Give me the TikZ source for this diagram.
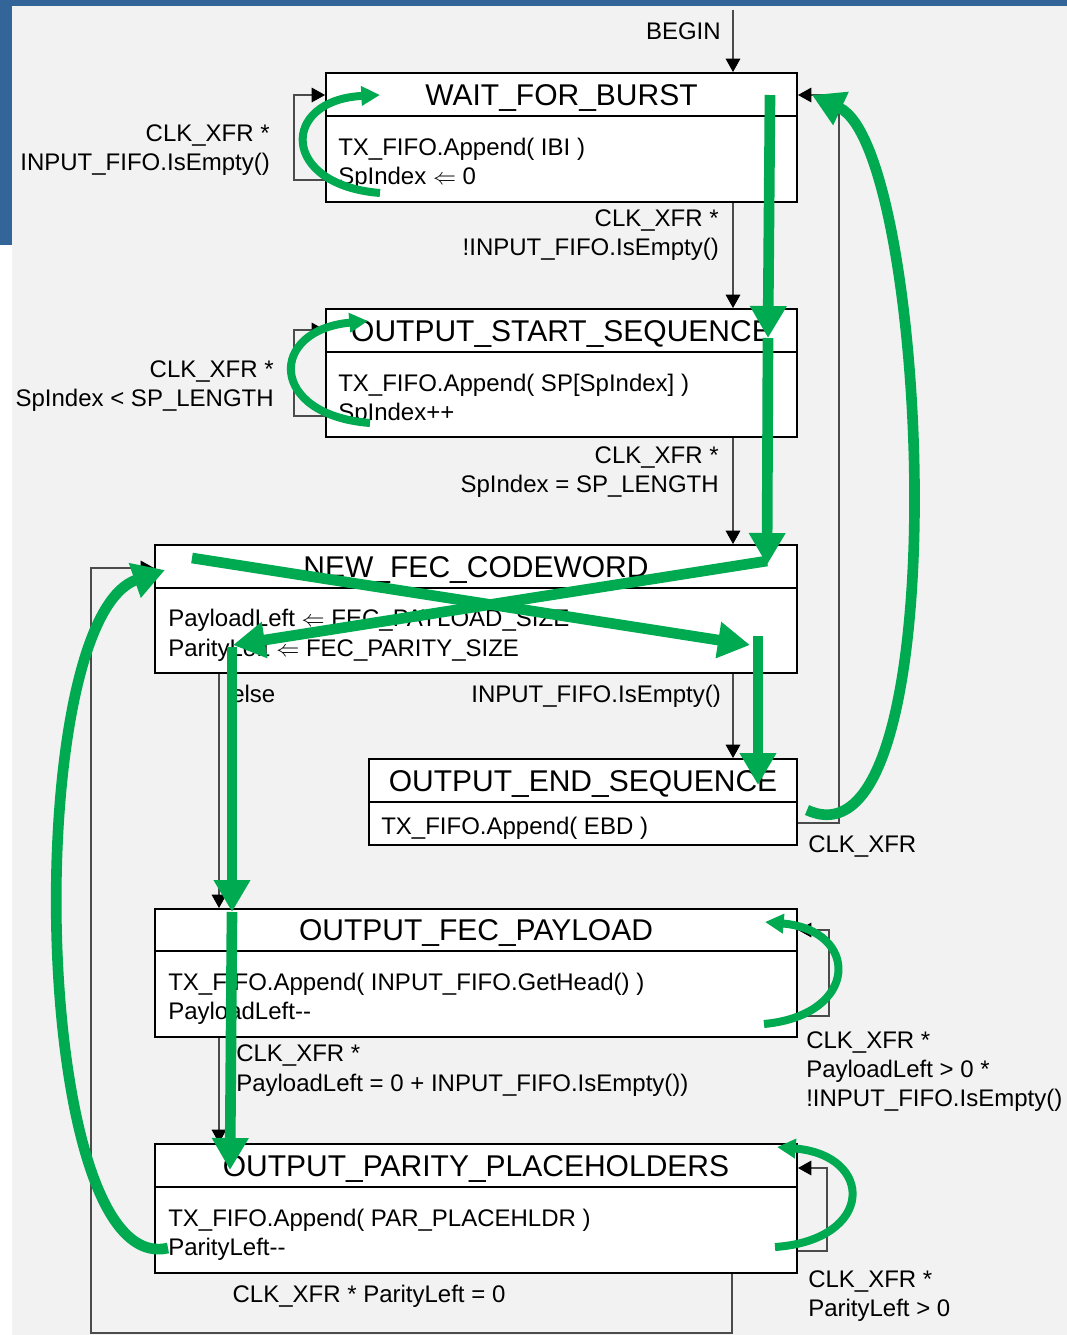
\documentclass[tikz,border=0pt]{standalone}
\usepackage{fontspec}
\setmainfont{Liberation Sans}
\usetikzlibrary{arrows.meta,fit}
\definecolor{bandblue}{RGB}{52,101,153}
\definecolor{bggray}{RGB}{242,242,242}
\definecolor{hl}{RGB}{0,170,80}
\definecolor{connc}{RGB}{75,75,75}
\tikzset{
  statebox/.style={draw=black, line width=1.5pt, fill=white, inner sep=0pt},
  divline/.style={draw=black, line width=1.5pt},
  conn/.style={draw=connc, line width=0.8pt, -{Triangle[length=10pt,width=11pt,color=black]}},
  ttl/.style={font=\fontsize{22.5}{27}\selectfont, inner sep=0pt, text height=16.1pt, text depth=0pt, anchor=center},
  bdy/.style={font=\fontsize{18}{22}\selectfont, inner sep=0pt, text height=12.9pt, text depth=0pt, anchor=west},
  lblr/.style={bdy, anchor=east},
  hlbig/.style={draw=hl, line width=8pt, -{Triangle[length=24pt,width=26pt]}},
  hlsmall/.style={draw=hl, line width=6pt, -{Triangle[length=14pt,width=14pt]}}
}
\begin{document}
\begin{tikzpicture}[x=0.75pt,y=-0.75pt]
\useasboundingbox (0,0) rectangle (1067,1335);
% background
\fill[bggray] (0,0) rectangle (1067,1335);
\fill[white] (0,245) rectangle (12,1335);
\fill[bandblue] (0,0) rectangle (1067,6);
\fill[bandblue] (0,0) rectangle (12,245);

% state boxes
\node[statebox, fit={(326,73) (797,202)}] (wait) {};
\draw[divline] (326,116) -- (797,116);
\node[statebox, fit={(326,309) (797,437)}] (start) {};
\draw[divline] (326,352) -- (797,352);
\node[statebox, fit={(155,545) (797,673)}] (newfec) {};
\draw[divline] (155,588) -- (797,588);
\node[statebox, fit={(369,759) (797,845)}] (endseq) {};
\draw[divline] (369,802) -- (797,802);
\node[statebox, fit={(155,909) (797,1037)}] (fecpay) {};
\draw[divline] (155,951) -- (797,951);
\node[statebox, fit={(155,1144) (797,1273)}] (parity) {};
\draw[divline] (155,1187) -- (797,1187);

% titles
\node[ttl] (t1) at (561.5,94.5) {WAIT\_FOR\_BURST};
\node[ttl] (t2) at (561.5,330.5) {OUTPUT\_START\_SEQUENCE};
\node[ttl] (t3) at (476,566.5) {NEW\_FEC\_CODEWORD};
\node[ttl] (t4) at (583,780.5) {OUTPUT\_END\_SEQUENCE};
\node[ttl] (t5) at (476,930) {OUTPUT\_FEC\_PAYLOAD};
\node[ttl] (t6) at (476,1165.5) {OUTPUT\_PARITY\_PLACEHOLDERS};

% bodies
\node[bdy] (b1a) at (338,147) {TX\_FIFO.Append( IBI )};
\node[bdy] (b1b) at (338,176) {SpIndex $\Leftarrow$ 0};
\node[bdy] (b2a) at (338,383) {TX\_FIFO.Append( SP[SpIndex] )};
\node[bdy] (b2b) at (338,412) {SpIndex++};
\node[bdy] (b3a) at (168,618) {PayloadLeft $\Leftarrow$ FEC\_PAYLOAD\_SIZE};
\node[bdy] (b3b) at (168,648) {ParityLeft $\Leftarrow$ FEC\_PARITY\_SIZE};
\node[bdy] (b4a) at (381,826) {TX\_FIFO.Append( EBD )};
\node[bdy] (b5a) at (168,982) {TX\_FIFO.Append( INPUT\_FIFO.GetHead() )};
\node[bdy] (b5b) at (168,1011) {PayloadLeft-{}-};
\node[bdy] (b6a) at (168,1218) {TX\_FIFO.Append( PAR\_PLACEHLDR )};
\node[bdy] (b6b) at (168,1247) {ParityLeft-{}-};

% connectors
\coordinate (bg) at (733,10);
\draw[conn] (bg) -- (bg |- wait.north);
\draw[conn] (wait.south -| bg) -- (start.north -| bg);
\draw[conn] (start.south -| bg) -- (newfec.north -| bg);
\draw[conn] (newfec.south -| bg) -- (endseq.north -| bg);
\coordinate (lx) at (219,0);
\draw[conn] (newfec.south -| lx) -- (fecpay.north -| lx);
\draw[conn] (fecpay.south -| lx) -- (parity.north -| lx);
\coordinate (wl1) at (294,180); \coordinate (wl2) at (294,95);
\draw[conn] (wait.west |- wl1) -- (wl1) -- (wl2) -- (wait.west |- wl2);
\coordinate (sl1) at (294,416); \coordinate (sl2) at (294,330);
\draw[conn] (start.west |- sl1) -- (sl1) -- (sl2) -- (start.west |- sl2);
\coordinate (fl1) at (829,1016); \coordinate (fl2) at (829,930);
\draw[conn] (fecpay.east |- fl1) -- (fl1) -- (fl2) -- (fecpay.east |- fl2);
\coordinate (pl1) at (827,1251); \coordinate (pl2) at (827,1168);
\draw[conn] (parity.east |- pl1) -- (pl1) -- (pl2) -- (parity.east |- pl2);
\coordinate (er1) at (839,823); \coordinate (er2) at (839,95);
\draw[conn] (endseq.east |- er1) -- (er1) -- (er2) -- (wait.east |- er2);
\coordinate (pb1) at (732,1333); \coordinate (pb2) at (91,1333); \coordinate (pb3) at (91,568);
\draw[conn] (parity.south -| pb1) -- (pb1) -- (pb2) -- (pb3) -- (newfec.west |- pb3);

% labels
\node[lblr] (lbegin) at (721,31) {BEGIN};
\node[lblr] (lw1) at (270,133) {CLK\_XFR *};
\node[lblr] (lw2) at (270,162) {INPUT\_FIFO.IsEmpty()};
\node[lblr] (lws1) at (719,218) {CLK\_XFR *};
\node[lblr] (lws2) at (719,247) {!INPUT\_FIFO.IsEmpty()};
\node[lblr] (ls1) at (274,369) {CLK\_XFR *};
\node[lblr] (ls2) at (274,398) {SpIndex < SP\_LENGTH};
\node[lblr] (lsn1) at (719,455) {CLK\_XFR *};
\node[lblr] (lsn2) at (719,484) {SpIndex = SP\_LENGTH};
\node[lblr] (lne) at (721,694) {INPUT\_FIFO.IsEmpty()};
\node[bdy] (lelse) at (231,694) {else};
\node[bdy] (lfp1) at (236,1053) {CLK\_XFR *};
\node[bdy] (lfp2) at (236,1083) {PayloadLeft = 0 + INPUT\_FIFO.IsEmpty())};
\node[bdy] (lf1) at (806,1040) {CLK\_XFR *};
\node[bdy] (lf2) at (806,1069) {PayloadLeft > 0 *};
\node[bdy] (lf3) at (806,1098) {!INPUT\_FIFO.IsEmpty()};
\node[bdy] (lew) at (808,844) {CLK\_XFR};
\node[bdy] (lp1) at (808,1279) {CLK\_XFR *};
\node[bdy] (lp2) at (808,1308) {ParityLeft > 0};
\node[bdy, anchor=center] (lpn) at (369,1294) {CLK\_XFR * ParityLeft = 0};

% green highlight arrows
\coordinate (ga1) at (380,193); \coordinate (ga2) at (380,95);
\draw[hlsmall] (ga1) .. controls (280,185) and (280,100) .. (ga2);
\coordinate (gb1) at (370,423); \coordinate (gb2) at (368,321);
\draw[hlsmall] (gb1) .. controls (268,415) and (268,330) .. (gb2);
\coordinate (gc1) at (770,95); \coordinate (gc2) at (768,338); \coordinate (gc3) at (767,565);
\draw[hlbig] (gc1) -- (gc2);
\draw[hlbig] (gc2) -- (gc3);
\coordinate (gd1) at (767,561); \coordinate (gd2) at (233,645);
\draw[hlbig] (gd1) -- (gd2);
\coordinate (ge1) at (192,558); \coordinate (ge2) at (750,645);
\draw[hlbig] (ge1) -- (ge2);
\coordinate (gf1) at (758,636); \coordinate (gf2) at (758,785);
\draw[hlbig] (gf1) -- (gf2);
\coordinate (gg1) at (232,647); \coordinate (gg2) at (232,912); \coordinate (gg3) at (230,1170);
\draw[hlbig] (gg1) -- (gg2);
\draw[hlbig] (gg2) -- (gg3);
\coordinate (gh1) at (168,1248); \coordinate (gh2) at (165,570);
\draw[hlbig] (gh1) .. controls (30,1280) and (20,620) .. (gh2);
\coordinate (gi1) at (807,810); \coordinate (gi2) at (812,95);
\draw[hlbig] (gi1) .. controls (960,880) and (930,150) .. (gi2);
\coordinate (gj1) at (764,1024); \coordinate (gj2) at (765,922);
\draw[hlsmall] (gj1) .. controls (860,1015) and (860,930) .. (gj2);
\coordinate (gk1) at (775,1247); \coordinate (gk2) at (777,1147);
\draw[hlsmall] (gk1) .. controls (875,1240) and (875,1155) .. (gk2);
\end{tikzpicture}
\end{document}
